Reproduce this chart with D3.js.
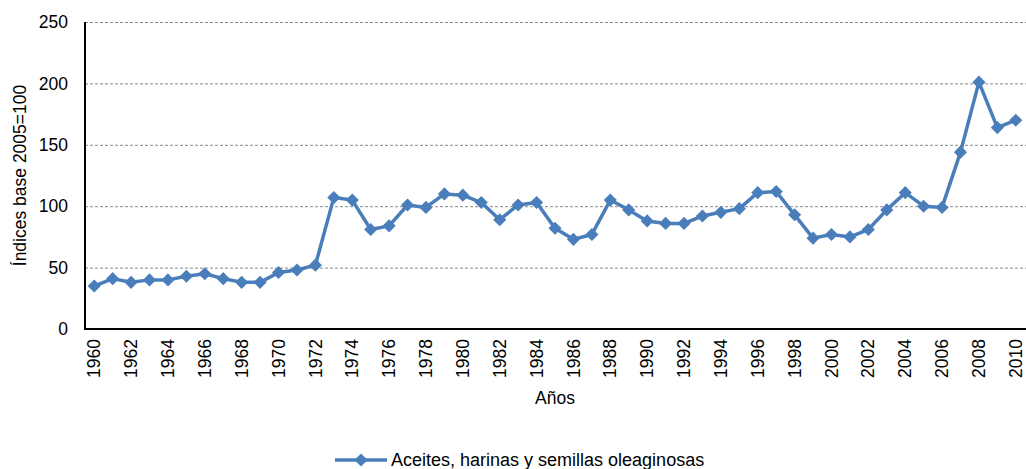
<!DOCTYPE html>
<html>
<head>
<meta charset="utf-8">
<script src="https://cdn.jsdelivr.net/npm/d3@7"></script>
<style>
  body { margin: 0; background: #fff; }
  text { font-family: "Liberation Sans", Arial, sans-serif; fill: #000; }
</style>
</head>
<body>
<div id="chart"></div>
<script>
// Data
const years = d3.range(1960, 2011)
const values = [35, 41, 38, 40, 40, 43, 45, 41, 38, 38,
    46, 48, 52, 107, 105, 81, 84, 101, 99, 110,
    109, 103, 89, 101, 103, 82, 73, 77, 105, 97,
    88, 86, 86, 92, 95, 98, 111, 112, 93, 74,
    77, 75, 81, 97, 111, 100, 99, 144, 201, 164,
    170]
const yTicks = [0, 50, 100, 150, 200, 250]
const seriesName = 'Aceites, harinas y semillas oleaginosas'

const dataset = years.map((y, i) => ({ year: y, value: values[i] }))

// Dimension
const dimension = {
    width: 1026,
    height: 469,
    left: 85,
    right: 1025,
    top: 22,
    bottom: 329
}
const fontSize = '17.5px'
const fontFamily = '"Liberation Sans", Arial, sans-serif'

const svg = d3.select('#chart')
    .append('svg')
    .attr('width', dimension.width)
    .attr('height', dimension.height)

// Scales
const xScale = d3.scaleBand()
    .domain(years)
    .range([dimension.left, dimension.right])
    .padding(0)

const yScale = d3.scaleLinear()
    .domain([0, 250])
    .range([dimension.bottom, dimension.top])

const xPos = (d) => xScale(d.year) + xScale.bandwidth() / 2

// Gridlines
svg.append('g')
    .selectAll('line')
    .data(yTicks.filter(t => t > 0))
    .join('line')
    .attr('x1', dimension.left)
    .attr('x2', dimension.width)
    .attr('y1', d => yScale(d) + 0.5)
    .attr('y2', d => yScale(d) + 0.5)
    .attr('stroke', '#888')
    .attr('stroke-width', 1)
    .attr('stroke-dasharray', '3,2')

// Y axis
const yAxis = d3.axisLeft(yScale)
    .tickValues(yTicks)
    .tickSize(0)
    .tickPadding(17)

const yAxisGroup = svg.append('g')
    .attr('transform', `translate(${dimension.left}, 0)`)
    .call(yAxis)
yAxisGroup.select('.domain').remove()
yAxisGroup.selectAll('text')
    .style('font-size', fontSize)
    .style('font-family', fontFamily)

// X axis
const xAxis = d3.axisBottom(xScale)
    .tickValues(years.filter(y => y % 2 === 0))
    .tickSize(0)

const xAxisGroup = svg.append('g')
    .attr('transform', `translate(0, ${dimension.bottom})`)
    .call(xAxis)
xAxisGroup.select('.domain').remove()
xAxisGroup.selectAll('text')
    .attr('transform', 'rotate(-90)')
    .attr('x', -10)
    .attr('y', 0)
    .attr('dy', '0.35em')
    .style('text-anchor', 'end')
    .style('font-size', fontSize)
    .style('font-family', fontFamily)

// Axis lines
svg.append('line')
    .attr('x1', dimension.left).attr('x2', dimension.left)
    .attr('y1', dimension.top).attr('y2', dimension.bottom)
    .attr('stroke', '#000').attr('stroke-width', 2)
svg.append('line')
    .attr('x1', dimension.left - 1).attr('x2', dimension.width)
    .attr('y1', dimension.bottom).attr('y2', dimension.bottom)
    .attr('stroke', '#000').attr('stroke-width', 2)

// Axis titles
svg.append('text')
    .attr('x', 555)
    .attr('y', 404)
    .style('font-size', fontSize)
    .style('text-anchor', 'middle')
    .text('Años')

svg.append('text')
    .attr('transform', `translate(26, ${(dimension.top + dimension.bottom) / 2}) rotate(-90)`)
    .style('font-size', fontSize)
    .style('text-anchor', 'middle')
    .text('Índices base 2005=100')

// Line
const color = '#4a7ebb'
const line = d3.line()
    .x(xPos)
    .y(d => yScale(d.value))

svg.append('path')
    .datum(dataset)
    .attr('d', line)
    .attr('fill', 'none')
    .attr('stroke', color)
    .attr('stroke-width', 3.5)
    .attr('stroke-linejoin', 'round')

const diamond = d3.symbol().type(d3.symbolDiamond2).size(110)

svg.append('g')
    .selectAll('path')
    .data(dataset)
    .join('path')
    .attr('d', diamond)
    .attr('transform', d => `translate(${xPos(d)}, ${yScale(d.value)})`)
    .attr('fill', color)

// Legend
const legend = svg.append('g')
    .attr('transform', 'translate(335, 460)')
legend.append('line')
    .attr('x1', 0).attr('x2', 52)
    .attr('stroke', color)
    .attr('stroke-width', 3.5)
legend.append('path')
    .attr('d', diamond)
    .attr('transform', 'translate(26, 0)')
    .attr('fill', color)
legend.append('text')
    .attr('x', 56)
    .attr('y', 0)
    .attr('dy', '0.35em')
    .style('font-size', '18px')
    .text(seriesName)
</script>
</body>
</html>
